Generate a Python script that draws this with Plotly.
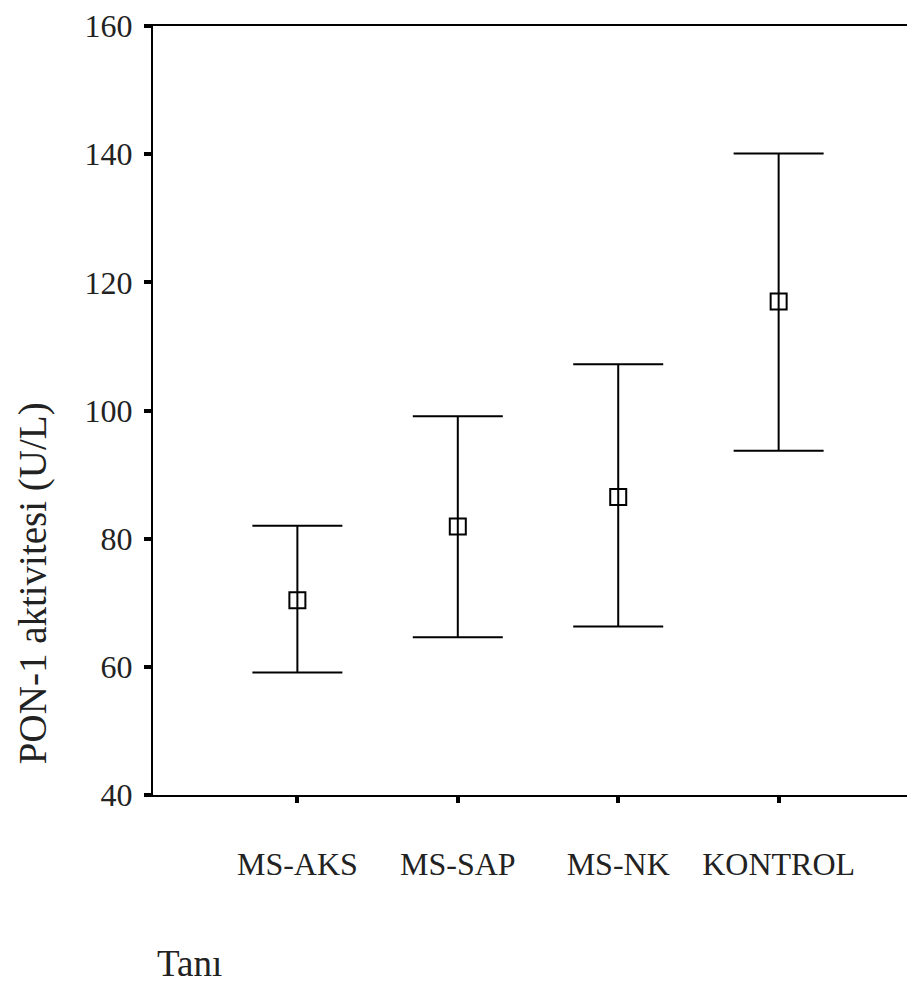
import plotly.graph_objects as go

categories = ["MS-AKS", "MS-SAP", "MS-NK", "KONTROL"]
means = [70.4, 81.9, 86.5, 117.0]
upper = [82.0, 99.1, 107.2, 140.1]
lower = [59.1, 64.6, 66.3, 93.7]
y_ticks = [40, 60, 80, 100, 120, 140, 160]

x_idx = list(range(len(categories)))
err_plus = [u - m for u, m in zip(upper, means)]
err_minus = [m - l for m, l in zip(means, lower)]

FONT = "Liberation Serif, Times New Roman, serif"

fig = go.Figure()
fig.add_trace(go.Scatter(
    x=x_idx, y=means, mode="markers",
    marker=dict(symbol="square-open", size=16, color="black", line=dict(width=2, color="black")),
    error_y=dict(type="data", symmetric=False, array=err_plus, arrayminus=err_minus,
                 color="black", thickness=2, width=45),
    showlegend=False, hoverinfo="skip",
))

fig.update_layout(
    width=907, height=982,
    margin=dict(l=145, r=0, t=16, b=195),
    paper_bgcolor="white", plot_bgcolor="white",
    font=dict(family=FONT, color="#222", size=32),
    xaxis=dict(
        range=[-0.9, 3.85], tickmode="array", tickvals=x_idx, ticktext=categories,
        showline=True, linecolor="black", linewidth=2, mirror=True,
        ticks="outside", ticklen=6, tickwidth=4, tickcolor="black",
        showgrid=False, zeroline=False, ticklabelstandoff=34,
        tickfont=dict(size=32, family=FONT, color="#222"),
    ),
    yaxis=dict(
        range=[40, 160], tickmode="array", tickvals=y_ticks,
        showline=True, linecolor="black", linewidth=2,
        ticks="outside", ticklen=7, tickwidth=4, tickcolor="black",
        showgrid=False, zeroline=False, ticklabelstandoff=5,
        ticklabeloverflow="allow",
        tickfont=dict(size=32, family=FONT, color="#222"),
    ),
    annotations=[
        dict(text="PON-1 aktivitesi (U/L)", xref="paper", yref="paper",
             x=-0.158, y=0.275, textangle=-90, showarrow=False,
             xanchor="center", yanchor="middle",
             font=dict(size=39, family=FONT, color="#222")),
        dict(text="Tanı", xref="paper", yref="paper",
             x=0.0026, y=-0.219, showarrow=False,
             xanchor="left", yanchor="middle",
             font=dict(size=37, family=FONT, color="#222")),
    ],
)

fig.write_html("out.html")
